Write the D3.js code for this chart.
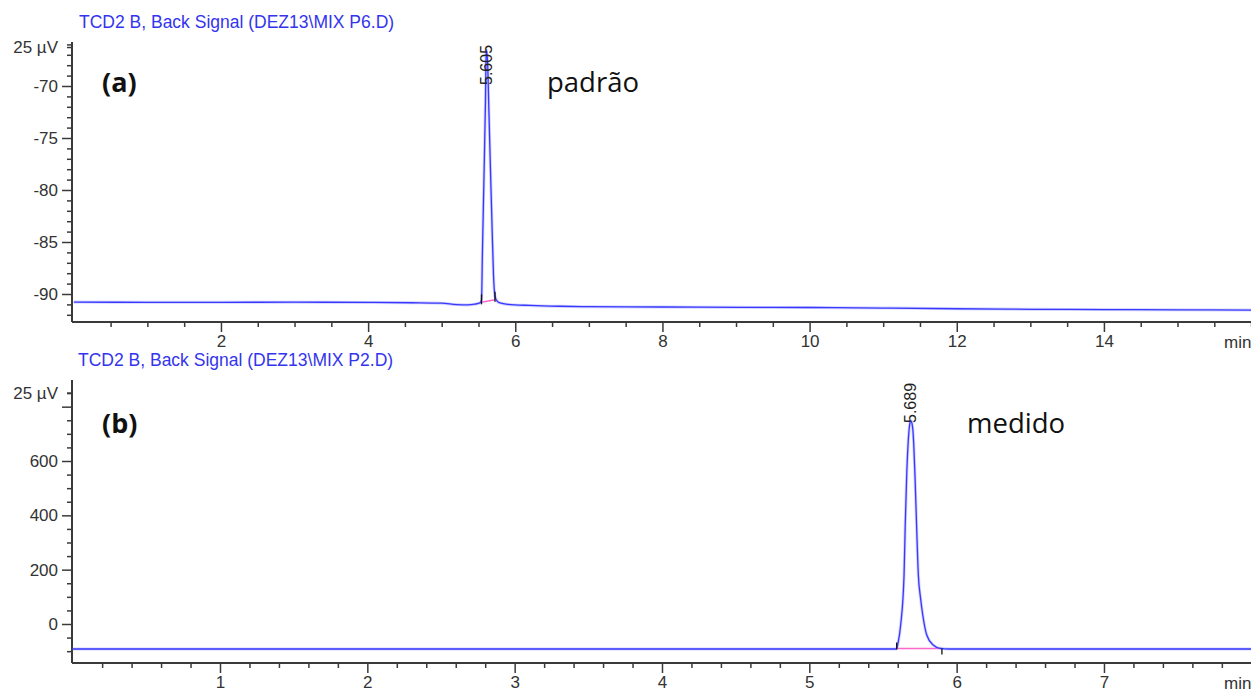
<!DOCTYPE html>
<html>
<head>
<meta charset="utf-8">
<script src="https://cdn.jsdelivr.net/npm/d3@7"></script>
<style>
  html, body { margin: 0; padding: 0; background: #fff; }
  svg { display: block; }
</style>
</head>
<body>
<svg id="chart" width="1251" height="691"></svg>
<script>
// ---- Chromatogram (a): standard, TCD2 B back signal, run MIX P6 ----
const timesA = [0, 1, 2, 3, 4, 4.6, 5.0, 5.2, 5.35, 5.45, 5.52, 5.541, 5.554, 5.575, 5.595, 5.605,
  5.622, 5.643, 5.663, 5.684, 5.704, 5.724, 5.751, 5.792, 5.9, 6.2, 6.6, 7, 8, 9, 10, 11, 12, 13, 14, 15, 16];
const signalA = [-90.78, -90.80, -90.80, -90.79, -90.81, -90.84, -90.88, -91.02, -91.05, -90.98, -90.86, -90.58,
  -85.8, -78.6, -71.4, -66.5, -67.5, -72.8, -78.1, -83.4, -88.2, -90.2, -90.67, -90.86, -91.0, -91.1, -91.18,
  -91.22, -91.25, -91.28, -91.3, -91.35, -91.42, -91.47, -91.5, -91.52, -91.55];

// ---- Chromatogram (b): measured sample, run MIX P2 ----
const timesB = [0, 1, 2, 3, 4, 5, 5.4, 5.55, 5.585, 5.593, 5.604, 5.620, 5.643, 5.651, 5.661, 5.670, 5.677,
  5.683, 5.689, 5.696, 5.703, 5.709, 5.717, 5.728, 5.740, 5.755, 5.770, 5.797, 5.841, 5.887, 5.95, 6.2, 6.6, 7, 7.5, 8];
const signalB = [-92, -92, -92, -92, -92, -92, -92, -92, -92, -89.4, -65.2, -3.7, 180.4, 364.4, 548.5, 658.9,
  714.1, 740, 748, 740, 714.1, 658.9, 548.5, 364.4, 180.4, 95, 33.1, -40.5, -77.3, -89.4, -92, -92, -92, -92, -92, -92];

// Retention times printed on the peaks
const peakTimes = [5.605, 5.689];
const peakLabels = ["5.605", "5.689"];

// Integration baselines (start/end time, signal)
const integTimesA = [5.541, 5.724];
const integSignalA = [-90.8, -90.55];
const integTimesB = [5.593, 5.9];
const integSignalB = [-90, -90];

// Axis ticks
const yMajorA = [-70, -75, -80, -85, -90];
const yMajorB = [0, 200, 400, 600, 800];
const yLabelsB = ["0", "200", "400", "600", ""];
const xMajorA = [2, 4, 6, 8, 10, 12, 14];
const xMajorB = [1, 2, 3, 4, 5, 6, 7];

const titles = ["TCD2 B, Back Signal (DEZ13\\MIX P6.D)", "TCD2 B, Back Signal (DEZ13\\MIX P2.D)"];
const panelTags = ["(a)", "(b)"];
const panelNotes = ["padrão", "medido"];
const unitLabel = "25 µV";
const unitValues = [-66.3, 850];

const svg = d3.select("#chart");
svg.append("rect").attr("width", 1251).attr("height", 691).attr("fill", "#fff");

const axisColor = "#3a3a3a";
const labelColor = "#333";
const traceColor = "#3838ff";
const tickFont = "'Liberation Sans', Arial, sans-serif";
const noteFont = "'Open Sans', sans-serif";

function drawPanel(cfg) {
  const g = svg.append("g");
  const x = d3.scaleLinear().domain(cfg.xDomain).range(cfg.xRange);
  const y = d3.scaleLinear().domain(cfg.yRef).range(cfg.yRefPx);
  const left = 72, right = 1251, top = cfg.top, bottom = cfg.bottom;

  const clipId = "clip" + cfg.id;
  svg.append("clipPath").attr("id", clipId)
    .append("rect").attr("x", left).attr("y", top).attr("width", right - left).attr("height", bottom - top);

  // title
  g.append("text").attr("x", cfg.titleX).attr("y", cfg.titleY)
    .attr("font-family", tickFont).attr("font-size", 17.5).attr("fill", "#3434ee")
    .text(cfg.title);

  // y axis
  const yLo = y.invert(bottom), yHi = y.invert(top);
  const minors = d3.range(Math.ceil(Math.min(yLo, yHi) / cfg.yMinor) * cfg.yMinor, Math.max(yLo, yHi), cfg.yMinor)
    .filter(v => !cfg.yMajor.some(m => Math.abs(m - v) < 1e-9));
  const yAxisMajor = d3.axisLeft(y).tickValues(cfg.yMajor).tickSize(10).tickPadding(4)
    .tickFormat((d, i) => cfg.yLabels[i]);
  const ya = g.append("g").attr("transform", `translate(${left},0)`).call(yAxisMajor);
  ya.select(".domain").remove();
  ya.selectAll(".tick line").attr("stroke", axisColor).attr("stroke-width", 1.5);
  ya.selectAll(".tick text").attr("font-family", tickFont).attr("font-size", 17).attr("fill", labelColor);
  const yAxisMinor = d3.axisLeft(y).tickValues(minors).tickSize(5).tickFormat("");
  const ym = g.append("g").attr("transform", `translate(${left},0)`).call(yAxisMinor);
  ym.select(".domain").remove();
  ym.selectAll(".tick line").attr("stroke", axisColor).attr("stroke-width", 1.5);

  // unit label at the top of the y axis
  g.append("line").attr("x1", left - 5).attr("x2", left)
    .attr("y1", y(cfg.unitValue)).attr("y2", y(cfg.unitValue))
    .attr("stroke", axisColor).attr("stroke-width", 1.5);
  g.append("text").attr("x", 58).attr("y", y(cfg.unitValue)).attr("dy", "0.35em")
    .attr("text-anchor", "end").attr("font-family", tickFont).attr("font-size", 17).attr("fill", labelColor)
    .text(unitLabel);

  g.append("line").attr("x1", left).attr("x2", left).attr("y1", top).attr("y2", bottom)
    .attr("stroke", axisColor).attr("stroke-width", 2);

  // x axis
  const xMinors = d3.range(cfg.xMinor, cfg.xDomain[1] + 1e-9, cfg.xMinor)
    .filter(v => !cfg.xMajor.some(m => Math.abs(m - v) < 1e-9));
  const xa = g.append("g").attr("transform", `translate(0,${bottom})`)
    .call(d3.axisBottom(x).tickValues(cfg.xMajor).tickSize(10).tickPadding(3).tickFormat(d3.format("d")));
  xa.select(".domain").remove();
  xa.selectAll(".tick line").attr("stroke", axisColor).attr("stroke-width", 1.5);
  xa.selectAll(".tick text").attr("font-family", tickFont).attr("font-size", 17).attr("fill", labelColor);
  const xm = g.append("g").attr("transform", `translate(0,${bottom})`)
    .call(d3.axisBottom(x).tickValues(xMinors).tickSize(5).tickFormat(""));
  xm.select(".domain").remove();
  xm.selectAll(".tick line").attr("stroke", axisColor).attr("stroke-width", 1.5);
  g.append("line").attr("x1", left).attr("x2", right).attr("y1", bottom).attr("y2", bottom)
    .attr("stroke", axisColor).attr("stroke-width", 2);
  g.append("text").attr("x", 1224).attr("y", bottom + 26)
    .attr("font-family", tickFont).attr("font-size", 17).attr("fill", labelColor).text("min");

  // integration baseline with start/end marks
  const plot = g.append("g").attr("clip-path", `url(#${clipId})`);
  const ib = cfg.integT.map((t, i) => [t, cfg.integV[i]]);
  plot.append("path").datum(ib)
    .attr("d", d3.line().x(d => x(d[0])).y(d => y(d[1])))
    .attr("fill", "none").attr("stroke", "#ff66cc").attr("stroke-width", 1.6);

  // trace
  const pts = cfg.times.map((t, i) => [t, cfg.signal[i]]);
  plot.append("path").datum(pts)
    .attr("d", d3.line().curve(d3.curveMonotoneX).x(d => x(d[0])).y(d => y(d[1])))
    .attr("fill", "none").attr("stroke", "#9a9aff").attr("stroke-width", 3).attr("opacity", 0.45);
  plot.append("path").datum(pts)
    .attr("d", d3.line().curve(d3.curveMonotoneX).x(d => x(d[0])).y(d => y(d[1])))
    .attr("fill", "none").attr("stroke", traceColor).attr("stroke-width", 1.3);

  ib.forEach((d, i) => {
    const dy = cfg.markOffsets[i];
    plot.append("line").attr("x1", x(d[0])).attr("x2", x(d[0]))
      .attr("y1", y(d[1]) + dy[0]).attr("y2", y(d[1]) + dy[1])
      .attr("stroke", "#111").attr("stroke-width", 1.3);
  });

  // retention time label
  g.append("text")
    .attr("transform", `translate(${x(cfg.peakTime)},${top + 43}) rotate(-90)`)
    .attr("dy", "0.35em")
    .attr("font-family", tickFont).attr("font-size", 16).attr("fill", "#222")
    .text(cfg.peakLabel);

  // panel tag and note
  g.append("text").attr("x", 102).attr("y", cfg.tagY)
    .attr("font-family", noteFont).attr("font-weight", 700).attr("font-size", 27).attr("fill", "#111")
    .text(cfg.tag);
  g.append("text").attr("x", cfg.noteX).attr("y", cfg.tagY)
    .attr("font-family", noteFont).attr("font-size", 27.5).attr("fill", "#111")
    .text(cfg.note);
}

drawPanel({
  id: "a", title: titles[0], titleX: 79, titleY: 28,
  times: timesA, signal: signalA,
  xDomain: [0, 16], xRange: [73.8, 73.8 + 16 * 73.58], xMajor: xMajorA, xMinor: 0.5,
  yRef: [-70, -90], yRefPx: [86, 294], yMajor: yMajorA, yLabels: yMajorA.map(String), yMinor: 1,
  top: 42, bottom: 322, unitValue: unitValues[0],
  integT: integTimesA, integV: integSignalA, markOffsets: [[-8, 2], [-8, 2]],
  peakTime: peakTimes[0], peakLabel: peakLabels[0],
  tag: panelTags[0], note: panelNotes[0], noteX: 547, tagY: 92
});

drawPanel({
  id: "b", title: titles[1], titleX: 78, titleY: 366,
  times: timesB, signal: signalB,
  xDomain: [0, 8], xRange: [72.67, 72.67 + 8 * 147.33], xMajor: xMajorB, xMinor: 0.2,
  yRef: [0, 600], yRefPx: [624, 461], yMajor: yMajorB, yLabels: yLabelsB, yMinor: 50,
  top: 380, bottom: 663, unitValue: unitValues[1],
  integT: integTimesB, integV: integSignalB, markOffsets: [[-6, 1], [0, 6]],
  peakTime: peakTimes[1], peakLabel: peakLabels[1],
  tag: panelTags[1], note: panelNotes[1], noteX: 967, tagY: 433
});
</script>
</body>
</html>
